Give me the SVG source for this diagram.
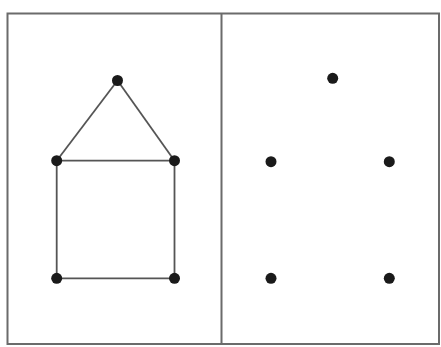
<svg xmlns="http://www.w3.org/2000/svg" width="441" height="347" viewBox="0 0 441 347">
<style>
.frame{fill:none;stroke:#6b6b6b;stroke-width:2}
.edge{stroke:#555;stroke-width:1.8;fill:none}
.dot{fill:#1a1a1a}
</style>
<rect width="441" height="347" fill="#fff"/>
<g id="frame">
<rect class="frame" x="7.5" y="13.5" width="431.5" height="330.5"/>
<line class="frame" x1="221.5" y1="13.5" x2="221.5" y2="344"/>
</g>
<g id="connectors">
<line class="edge" x1="117.5" y1="80.5" x2="56.7" y2="160.7"/>
<line class="edge" x1="117.5" y1="80.5" x2="174.5" y2="160.7"/>
<line class="edge" x1="56.7" y1="160.7" x2="174.5" y2="160.7"/>
<line class="edge" x1="56.7" y1="160.7" x2="56.7" y2="278.3"/>
<line class="edge" x1="174.5" y1="160.7" x2="174.5" y2="278.3"/>
<line class="edge" x1="56.7" y1="278.3" x2="174.5" y2="278.3"/>
</g>
<g id="n1"><circle class="dot" cx="117.5" cy="80.5" r="5.5"/></g>
<g id="n2"><circle class="dot" cx="56.7" cy="160.7" r="5.5"/></g>
<g id="n3"><circle class="dot" cx="174.5" cy="160.7" r="5.5"/></g>
<g id="n4"><circle class="dot" cx="56.7" cy="278.3" r="5.5"/></g>
<g id="n5"><circle class="dot" cx="174.5" cy="278.3" r="5.5"/></g>
<g id="m1"><circle class="dot" cx="332.7" cy="78.3" r="5.5"/></g>
<g id="m2"><circle class="dot" cx="271" cy="161.7" r="5.5"/></g>
<g id="m3"><circle class="dot" cx="389.3" cy="161.7" r="5.5"/></g>
<g id="m4"><circle class="dot" cx="271" cy="278.3" r="5.5"/></g>
<g id="m5"><circle class="dot" cx="389.3" cy="278.3" r="5.5"/></g>
</svg>
